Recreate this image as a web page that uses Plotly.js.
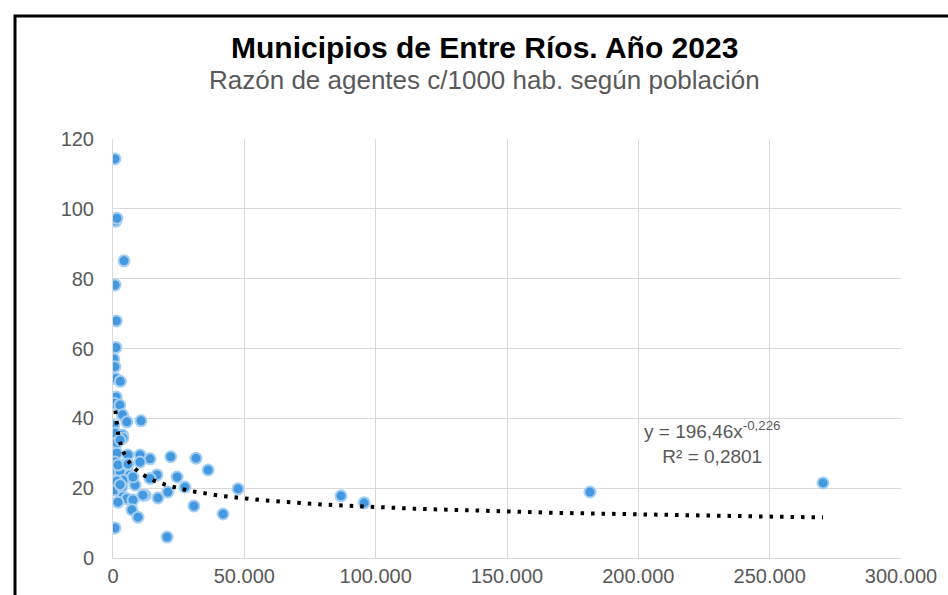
<!DOCTYPE html>
<html>
<head>
<meta charset="utf-8">
<script src="https://cdn.plot.ly/plotly-3.0.1.min.js"></script>
<style>html,body{margin:0;padding:0;background:#fff;}#chart{width:948px;height:595px;}</style>
</head>
<body>
<div id="chart"></div>
<script>
// Población (habitantes) de cada municipio
const poblacion = [
  760, 1100, 1500, 4200, 800, 1300, 1100, 300, 700, 1100,
  2800, 1200, 500, 2600, 3600, 5300, 10660, 300, 760, 3600,
  3800, 1500, 1500, 5700, 10300, 14100, 22000, 31600, 36200, 760,
  3400, 5300, 10300, 760, 2700, 16750, 14100, 24400, 6500, 760,
  3800, 8400, 27400, 47600, 760, 3400, 12200, 20900, 3800, 5300,
  7600, 17100, 1900, 30800, 7200, 41900, 9500, 760, 20600, 86800,
  95600, 181600, 270300, 2700, 1900, 5700, 7600, 1500, 2700, 11400
];
// Razón de agentes cada 1000 habitantes
const razon = [
  114.3, 96.5, 97.3, 85.1, 78.2, 67.9, 60.3, 57.0, 54.8, 51.4,
  50.6, 46.1, 44.3, 43.8, 41.0, 39.0, 39.3, 38.0, 35.8, 35.2,
  34.4, 33.0, 30.0, 29.5, 29.5, 28.4, 29.0, 28.6, 25.2, 27.5,
  26.6, 26.6, 27.5, 25.2, 24.6, 23.8, 22.8, 23.2, 23.8, 22.3,
  22.3, 20.9, 20.3, 19.8, 19.5, 20.3, 18.0, 18.9, 17.5, 17.0,
  16.6, 17.2, 16.0, 14.9, 13.8, 12.6, 11.7, 8.6, 6.0, 17.8,
  15.8, 18.9, 21.5, 33.8, 26.6, 26.9, 23.2, 22.0, 21.0, 18.0
];
// Línea de tendencia potencial mostrada en el gráfico: y = 196,46·x^-0,226
const tendCoef = 196.46;
const tendExp = -0.226;
const xStart = 900, xEnd = Math.max(...poblacion);
const tendX = [];
for (let i = 0; i <= 300; i++) {
  tendX.push(xStart * Math.pow(xEnd / xStart, i / 300));
}
const tendY = tendX.map(x => tendCoef * Math.pow(x, tendExp));

const tituloTexto = 'Municipios de Entre Ríos. Año 2023';
const subtituloTexto = 'Razón de agentes c/1000 hab. según población';
const ecuacionTexto = 'y = 196,46x<sup>-0,226</sup><br>R² = 0,2801';

const gray = '#595959';
const fontFam = '"Liberation Sans", Arial, sans-serif';

const traces = [
  {
    x: poblacion, y: razon, type: 'scatter', mode: 'markers',
    marker: {size: 11, color: 'rgb(68,152,224)', line: {color: 'rgb(164,206,242)', width: 2}},
    showlegend: false
  },
  {
    x: tendX, y: tendY, type: 'scatter', mode: 'lines',
    line: {color: '#000000', width: 4, dash: '3.5px,7px'},
    hoverinfo: 'skip', showlegend: false
  }
];

const layout = {
  width: 948, height: 595,
  margin: {l: 113, r: 47, t: 139, b: 37},
  paper_bgcolor: '#ffffff', plot_bgcolor: '#ffffff',
  separators: ',.',
  font: {family: fontFam, color: gray},
  xaxis: {
    range: [0, 300000], dtick: 50000, tick0: 0, tickformat: ',d',
    showgrid: true, gridcolor: '#d9d9d9', gridwidth: 1,
    zeroline: false, showline: true, linecolor: '#d9d9d9', linewidth: 1,
    ticks: '', tickfont: {size: 20, color: gray, family: fontFam},
    fixedrange: true
  },
  yaxis: {
    range: [0, 120], dtick: 20, tick0: 0,
    showgrid: true, gridcolor: '#d9d9d9', gridwidth: 1,
    zeroline: false, showline: true, linecolor: '#d9d9d9', linewidth: 1,
    ticks: '', ticklabelstandoff: 14, tickfont: {size: 20, color: gray, family: fontFam},
    fixedrange: true
  },
  shapes: [
    {type: 'rect', xref: 'paper', yref: 'paper',
     x0: (15 - 113) / 788, x1: (960 - 113) / 788,
     y0: (558 - 620) / 419, y1: (558 - 16) / 419,
     line: {color: '#000000', width: 3}, fillcolor: 'rgba(0,0,0,0)', layer: 'above'}
  ],
  annotations: [
    {text: '<b>' + tituloTexto + '</b>', xref: 'paper', yref: 'paper',
     x: (484 - 113) / 788, y: (558 - 47) / 419, xanchor: 'center', yanchor: 'middle',
     showarrow: false, font: {size: 30, color: '#000000', family: fontFam}},
    {text: subtituloTexto, xref: 'paper', yref: 'paper',
     x: (484 - 113) / 788, y: (558 - 80) / 419, xanchor: 'center', yanchor: 'middle',
     showarrow: false, font: {size: 26, color: gray, family: fontFam}},
    {text: ecuacionTexto, xref: 'x', yref: 'y',
     x: 228000, y: 33, xanchor: 'center', yanchor: 'middle', align: 'center',
     showarrow: false, font: {size: 19, color: gray, family: fontFam}}
  ]
};

Plotly.newPlot('chart', traces, layout, {displayModeBar: false, staticPlot: true});
</script>
</body>
</html>
